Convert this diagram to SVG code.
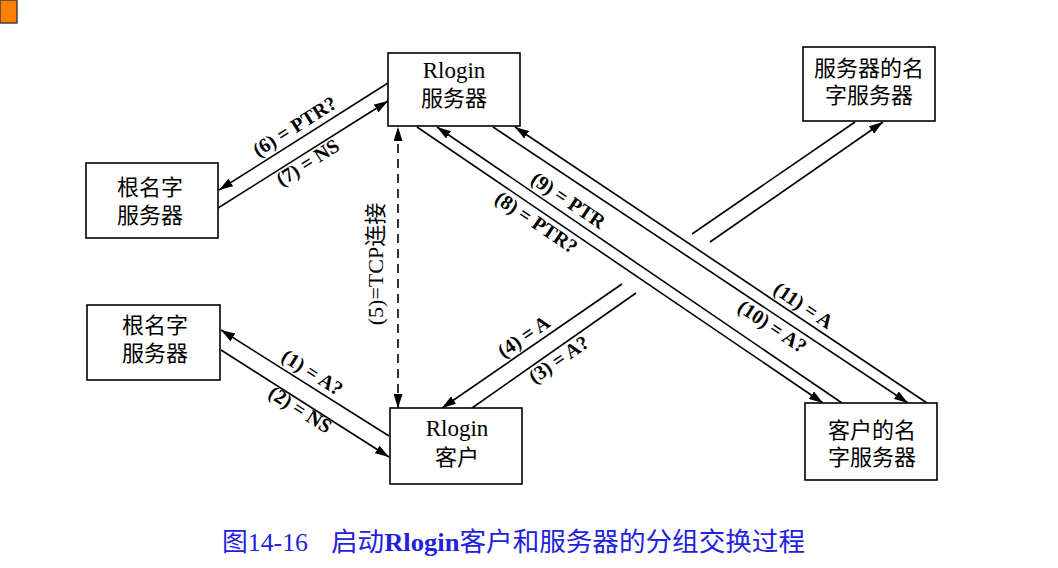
<svg xmlns="http://www.w3.org/2000/svg" width="1058" height="568" viewBox="0 0 1058 568">
<style>
.box{fill:#fff;stroke:#000;stroke-width:1.6}
.t{font-family:"Liberation Serif","Noto Sans CJK SC",serif;font-size:23px;fill:#000;text-anchor:middle}
.c{font-family:"Noto Sans CJK SC",sans-serif;font-size:22px;fill:#000;text-anchor:middle}
.lbl{font-family:"Liberation Serif","Noto Sans CJK SC",serif;font-size:20px;font-weight:bold;fill:#000;text-anchor:middle}
.ln{fill:none;stroke:#000;stroke-width:1.6}
.dash{stroke-dasharray:9 6}
.cap{font-family:"Liberation Serif","Noto Sans CJK SC",serif;font-size:26px;fill:#2222dd}
</style>
<defs>
<marker id="ah" viewBox="0 0 14 9" refX="14" refY="4.5" markerWidth="14" markerHeight="9" markerUnits="userSpaceOnUse" orient="auto-start-reverse">
<path d="M0,0 L14,4.5 L0,9 Z" fill="#000"/>
</marker>
</defs>
<rect x="0" y="0" width="17" height="23" fill="#ff8000" stroke="#404040" stroke-width="1.5"/>

<g id="connectors">
<path class="ln" d="M388,83 L219,190" marker-end="url(#ah)"/>
<path class="ln" d="M218,208 L388,101" marker-end="url(#ah)"/>
<path class="ln" d="M389,436 L221,330" marker-end="url(#ah)"/>
<path class="ln" d="M221,350 L389,457" marker-end="url(#ah)"/>
<path class="ln dash" d="M398,408 L398,127" marker-start="url(#ah)" marker-end="url(#ah)"/>
<path class="ln" d="M472,408 L636,293"/>
<path class="ln" d="M710,242 L883,122" marker-end="url(#ah)"/>
<path class="ln" d="M855,122 L692,234"/>
<path class="ln" d="M622,284 L442,408" marker-end="url(#ah)"/>
<path class="ln" d="M417,127 L823,403" marker-end="url(#ah)"/>
<path class="ln" d="M842,403 L437,127" marker-end="url(#ah)"/>
<path class="ln" d="M493,127 L908,403" marker-end="url(#ah)"/>
<path class="ln" d="M927,403 L515,127" marker-end="url(#ah)"/>

<text class="lbl" transform="translate(295,127) rotate(-32.3)" y="6">(6) = PTR?</text>
<text class="lbl" transform="translate(308,163) rotate(-32.3)" y="6">(7) = NS</text>
<text class="lbl" transform="translate(312,373) rotate(32.4)" y="6">(1) = A?</text>
<text class="lbl" transform="translate(300,410) rotate(32.4)" y="6">(2) = NS</text>
<text class="lbl" transform="translate(524,337) rotate(-34.6)" y="6">(4) = A</text>
<text class="lbl" transform="translate(559,360) rotate(-34.6)" y="6">(3) = A?</text>
<text class="lbl" transform="translate(568,201) rotate(34)" y="6">(9) = PTR</text>
<text class="lbl" transform="translate(536,223) rotate(34)" y="6">(8) = PTR?</text>
<text class="lbl" transform="translate(803,306) rotate(34)" y="6">(11) = A</text>
<text class="lbl" transform="translate(772,327) rotate(34)" y="6">(10) = A?</text>
<text class="t" transform="translate(383,264) rotate(-90)" style="font-size:22px">(5)=TCP连接</text>
</g>

<g id="rlogin-server">
<rect class="box" x="388" y="53" width="132" height="73"/>
<text class="t" x="454" y="78">Rlogin</text>
<text class="c" x="454" y="106">服务器</text>
</g>
<g id="root-ns-1">
<rect class="box" x="86" y="163" width="132" height="75"/>
<text class="c"><tspan x="150" y="195">根名字</tspan><tspan x="150" y="223">服务器</tspan></text>
</g>
<g id="root-ns-2">
<rect class="box" x="87" y="305" width="133" height="75"/>
<text class="c"><tspan x="155" y="333">根名字</tspan><tspan x="155" y="361">服务器</tspan></text>
</g>
<g id="rlogin-client">
<rect class="box" x="390" y="408" width="132" height="76"/>
<text class="t" x="457" y="436">Rlogin</text>
<text class="c" x="457" y="465">客户</text>
</g>
<g id="client-ns">
<rect class="box" x="805" y="403" width="132" height="77"/>
<text class="c"><tspan x="872" y="438">客户的名</tspan><tspan x="872" y="465">字服务器</tspan></text>
</g>
<g id="server-ns">
<rect class="box" x="803" y="47" width="132" height="74"/>
<text class="c"><tspan x="869" y="76">服务器的名</tspan><tspan x="869" y="103">字服务器</tspan></text>
</g>

<g id="caption">
<text class="cap" x="222" y="551" textLength="86" lengthAdjust="spacingAndGlyphs">图14-16</text>
<text class="cap" x="331" y="551" textLength="474" lengthAdjust="spacingAndGlyphs">启动<tspan font-weight="bold">Rlogin</tspan>客户和服务器的分组交换过程</text>
</g>
</svg>
